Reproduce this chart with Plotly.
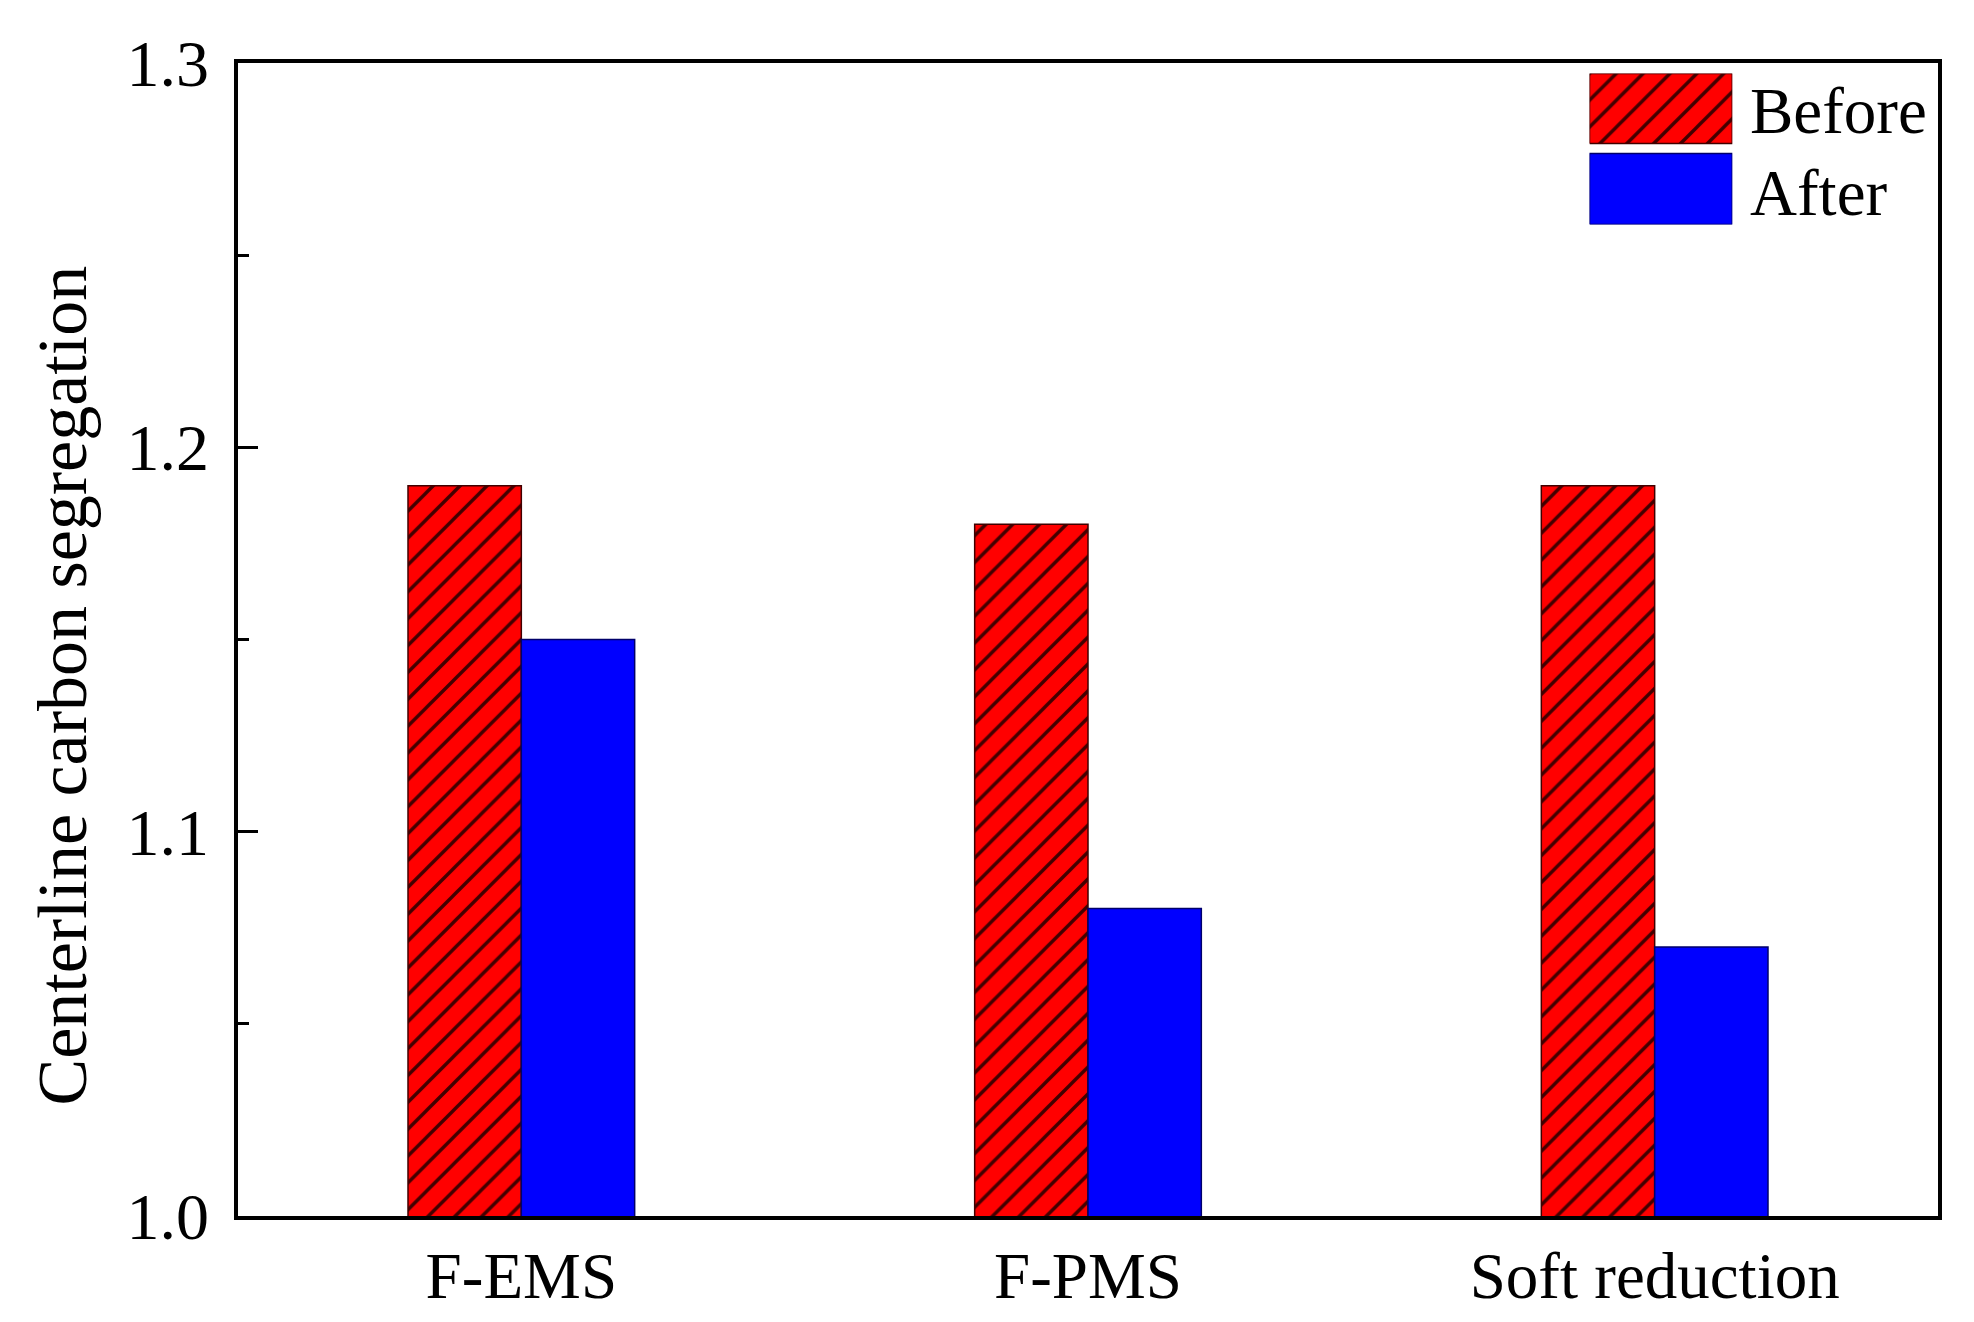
import plotly.graph_objects as go

categories = ["F-EMS", "F-PMS", "Soft reduction"]
before = [1.19, 1.18, 1.19]
after = [1.15, 1.08, 1.07]
series_names = ["Before", "After"]
y_title = "Centerline carbon segregation"

FONT = "Liberation Serif"
RED = "#FF0000"
BLUE = "#0000FF"
HATCH = dict(shape="/", fgcolor="#200000", fgopacity=0.85, size=19, solidity=0.18)

fig = go.Figure()
fig.add_trace(go.Bar(
    x=categories, y=before, name=series_names[0], showlegend=False,
    marker=dict(color=RED, line=dict(color="#400000", width=1.5), pattern=HATCH),
    base=0,
))
fig.add_trace(go.Bar(
    x=categories, y=after, name=series_names[1], showlegend=False,
    marker=dict(color=BLUE, line=dict(color="#00006A", width=1.5)),
    base=0,
))

# legend swatches drawn on a small helper axis
sw_x = [0, 1, 1, 0, 0]
fig.add_trace(go.Scatter(
    x=sw_x, y=[0.535, 0.535, 1, 1, 0.535], xaxis="x2", yaxis="y2",
    mode="lines", line=dict(color="#400000", width=1.5), fill="toself", fillcolor=RED,
    fillpattern=dict(HATCH, bgcolor=RED),
    showlegend=False, hoverinfo="skip",
))
fig.add_trace(go.Scatter(
    x=sw_x, y=[0, 0, 0.47, 0.47, 0], xaxis="x2", yaxis="y2",
    mode="lines", line=dict(color="#00006A", width=1.5), fill="toself", fillcolor=BLUE,
    showlegend=False, hoverinfo="skip",
))

fig.update_layout(
    width=1958, height=1314,
    paper_bgcolor="white", plot_bgcolor="white",
    margin=dict(l=230, r=28, t=55, b=106, autoexpand=False),
    font=dict(family=FONT, size=65, color="black"),
    barmode="group", bargap=0.6, bargroupgap=0,
    xaxis=dict(
        type="category", range=[-0.5, 2.5], automargin=False,
        showline=True, linecolor="black", linewidth=3.5, mirror=True,
        ticks="", showgrid=False, zeroline=False,
        tickfont=dict(family=FONT, size=65, color="black"),
    ),
    yaxis=dict(
        range=[1.0, 1.3], dtick=0.1, tick0=1.0, tickformat=".1f", automargin=False,
        showline=True, linecolor="black", linewidth=3.5, mirror=True,
        ticks="inside", ticklen=20, tickwidth=3, tickcolor="black",
        ticklabelstandoff=12,
        minor=dict(dtick=0.05, ticks="inside", ticklen=11, tickwidth=3, tickcolor="black"),
        showgrid=False, zeroline=False,
        tickfont=dict(family=FONT, size=66, color="black"),
    ),
    xaxis2=dict(domain=[0.795, 0.879], range=[0, 1], visible=False, anchor="y2", fixedrange=True),
    yaxis2=dict(domain=[0.860, 0.991], range=[0, 1], visible=False, anchor="x2", fixedrange=True),
    annotations=[
        dict(text=y_title, xref="paper", yref="paper", x=-0.103, y=0.46,
             xanchor="center", yanchor="middle", textangle=-90, showarrow=False,
             font=dict(family=FONT, size=70, color="black")),
        dict(text=series_names[0], xref="paper", yref="paper", x=0.888, y=0.958,
             xanchor="left", yanchor="middle", showarrow=False,
             font=dict(family=FONT, size=65, color="black")),
        dict(text=series_names[1], xref="paper", yref="paper", x=0.888, y=0.887,
             xanchor="left", yanchor="middle", showarrow=False,
             font=dict(family=FONT, size=65, color="black")),
    ],
)

fig.write_html("out.html")
